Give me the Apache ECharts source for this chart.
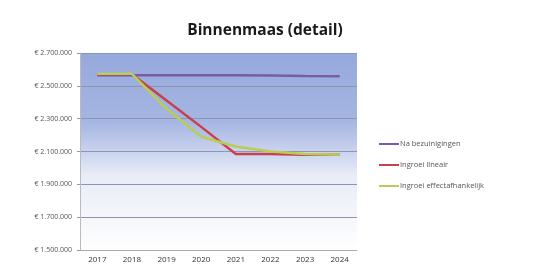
<!DOCTYPE html>
<html>
<head>
<meta charset="utf-8">
<script src="https://cdn.jsdelivr.net/npm/echarts@6/dist/echarts.min.js"></script>
<style>
  html, body { margin: 0; padding: 0; background: #fff; }
  #chart { width: 539px; height: 270px; }
</style>
</head>
<body>
<div id="chart"></div>
<script>
// data
var years = ["2017", "2018", "2019", "2020", "2021", "2022", "2023", "2024"];
var naBezuinigingen = [2565000, 2565000, 2565000, 2565000, 2565000, 2563000, 2560000, 2558000];
var ingroeiLineair = [2570000, 2570000, 2410000, 2250000, 2085000, 2085000, 2080000, 2080000];
var ingroeiEffect = [2573000, 2573000, 2360000, 2190000, 2130000, 2100000, 2085000, 2080000];
var seriesNames = ["Na bezuinigingen", "Ingroei lineair", "Ingroei effectafhankelijk"];

function euro(v) {
  var s = String(v).replace(/\B(?=(\d{3})+(?!\d))/g, ".");
  return "€ " + s;
}

var chart = echarts.init(document.getElementById("chart"));
chart.setOption({
  animation: false,
  color: ["#7a5ba8", "#c8404e", "#b9cc55"],
  title: {
    text: "Binnenmaas (detail)",
    left: 260,
    textAlign: "center",
    top: 18,
    textStyle: { fontFamily: "Open Sans", fontWeight: "bold", fontSize: 15.5, color: "#1a1a1a" }
  },
  legend: {
    orient: "vertical",
    left: 374,
    top: 135,
    itemWidth: 20,
    itemHeight: 2,
    itemGap: 13,
    icon: "rect",
    textStyle: { fontFamily: "Open Sans", fontSize: 7.5, color: "#555", padding: [0, 0, 0, -4] },
    data: seriesNames
  },
  grid: {
    left: 80, right: 182, top: 53, bottom: 20,
    show: true,
    borderWidth: 0,
    backgroundColor: new echarts.graphic.LinearGradient(0, 0, 0, 1, [
      { offset: 0, color: "#96a9dc" },
      { offset: 0.35, color: "#a6b6e2" },
      { offset: 0.5, color: "#cad3ee" },
      { offset: 0.62, color: "#e8ecf7" },
      { offset: 1, color: "#ffffff" }
    ])
  },
  xAxis: {
    type: "category",
    data: years,
    boundaryGap: true,
    axisLine: { lineStyle: { color: "#aaa" } },
    axisTick: { show: false },
    axisLabel: { fontFamily: "Open Sans", fontSize: 8, color: "#333", margin: 6 }
  },
  yAxis: {
    type: "value",
    min: 1500000,
    max: 2700000,
    interval: 200000,
    axisLine: { show: true, lineStyle: { color: "#bbb" } },
    axisTick: { show: true, length: 3, lineStyle: { color: "#999" } },
    splitLine: { lineStyle: { color: "#8e95ae", width: 1 } },
    axisLabel: { fontFamily: "Open Sans", fontSize: 7, color: "#555", margin: 8, formatter: euro }
  },
  series: [
    { name: seriesNames[0], type: "line", data: naBezuinigingen, symbol: "none", lineStyle: { width: 2.5 } },
    { name: seriesNames[1], type: "line", data: ingroeiLineair, symbol: "none", lineStyle: { width: 2.5 } },
    { name: seriesNames[2], type: "line", data: ingroeiEffect, symbol: "none", lineStyle: { width: 2.5 } }
  ]
});
</script>
</body>
</html>
